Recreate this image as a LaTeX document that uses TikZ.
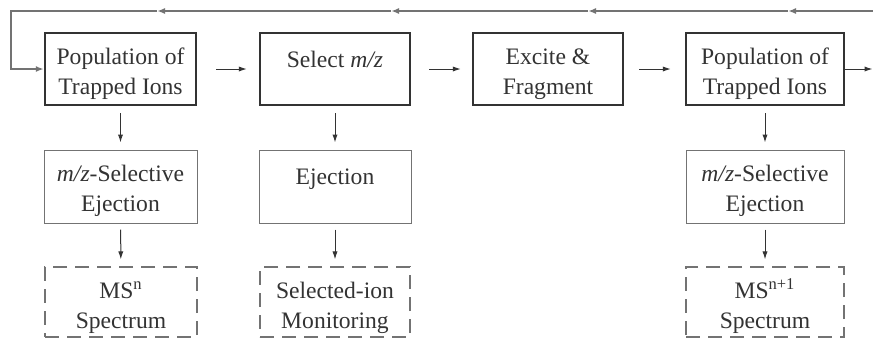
\documentclass[tikz,border=0pt]{standalone}
\usepackage{fontspec}
\setmainfont{Liberation Serif}
\usetikzlibrary{arrows.meta,positioning}
\definecolor{inkgray}{rgb}{0.2,0.2,0.2}
\definecolor{boxgray}{rgb}{0.45,0.45,0.45}
\newcommand{\topline}{\rule{0pt}{13pt}}

\begin{document}
\begin{tikzpicture}[x=0.5pt,y=-0.5pt,
        font=\fontsize{11.8}{15}\selectfont, text=inkgray,
        stage/.style={draw=inkgray, line width=1.2pt, rectangle, align=center, minimum height=36pt, inner sep=0pt},
        mode/.style={draw=boxgray, line width=0.5pt, rectangle, align=center, minimum height=36.5pt, inner sep=0pt},
        result/.style={draw=boxgray, line width=0.6pt, dash pattern=on 7pt off 4pt, rectangle, align=center, minimum height=35pt, inner sep=0pt},
        flow/.style={draw=inkgray, line width=0.5pt, -{Latex[length=4pt,width=2.6pt]}},
        backline/.style={draw=boxgray, line width=1pt, -{Latex[length=4pt,width=3pt]}}]
        \useasboundingbox (0,0) rectangle (873,339);
        %
        \node[stage, minimum width=75.5pt] (pop1) at (120.5,69) {\topline Population of\\Trapped Ions};
        \node[stage, minimum width=75pt] (sel) at (335,69) {\topline Select \textit{m/z}\\\mbox{}};
        \node[stage, minimum width=75pt] (exc) at (548,69) {\topline Excite \&\\Fragment};
        \node[stage, minimum width=79pt] (pop2) at (765,69) {\topline Population of\\Trapped Ions};
        
        % Ejection
        \node[mode, minimum width=76.5pt] (ej1) at (120.5,186.5) {\topline\textit{m/z}-Selective\\Ejection};
        \node[mode, minimum width=76pt] (ej2) at (335,186.5) {\topline Ejection\\\mbox{}};
        \node[mode, minimum width=79pt] (ej4) at (765,186.5) {\topline\textit{m/z}-Selective\\Ejection};
        
        % Output
        \node[result, minimum width=76pt] (ms1) at (121,302) {\rule{0pt}{14pt}MS\textsuperscript{n}\\Spectrum};
        \node[result, minimum width=75pt] (sim) at (335,302) {\rule{0pt}{14pt}Selected-ion\\Monitoring};
        \node[result, minimum width=79pt] (ms2) at (765,302) {\rule{0pt}{14pt}MS\textsuperscript{n+1}\\Spectrum};
        
        % Main row
        \draw[flow, shorten <=9.5pt, shorten >=6pt] (pop1) -- (sel);
        \draw[flow, shorten <=9pt, shorten >=5.5pt] (sel) -- (exc);
        \draw[flow, shorten <=7.5pt, shorten >=7pt] (exc) -- (pop2);
        \coordinate (exit) at (872.5,69);
        \draw[flow] (pop2) -- (exit);
        
        % Down arrows
        \draw[flow, shorten <=3.5pt, shorten >=3.5pt] (pop1) -- (ej1);
        \draw[flow, shorten <=3.5pt, shorten >=3.5pt] (sel) -- (ej2);
        \draw[flow, shorten <=3.5pt, shorten >=3.5pt] (pop2) -- (ej4);
        \draw[flow, shorten <=3pt, shorten >=3.5pt] (ej1) -- (ms1);
        \draw[flow, shorten <=3pt, shorten >=3.5pt] (ej2) -- (sim);
        \draw[flow, shorten <=3pt, shorten >=3.5pt] (ej4) -- (ms2);
        
        % Feedback
        \coordinate (fb0) at (873,11);
        \coordinate (t4) at (788,11);
        \coordinate (t3) at (588,11);
        \coordinate (t2) at (391,11);
        \coordinate (t1) at (157,11);
        \coordinate (corner) at (11,11);
        \draw[backline] (fb0) -- (t4);
        \draw[backline] (t4) -- (t3);
        \draw[backline] (t3) -- (t2);
        \draw[backline] (t2) -- (t1);
        \draw[backline] (t1) -- (corner) |- (pop1.west);
        

    \end{tikzpicture}
\end{document}
